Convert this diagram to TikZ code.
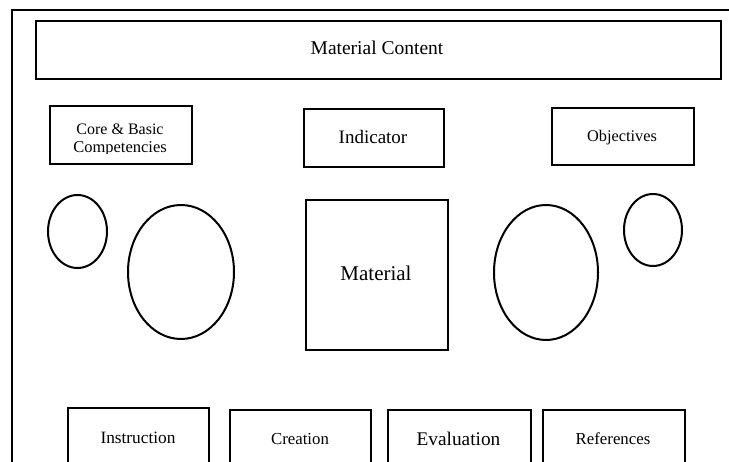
\documentclass[tikz,border=0pt]{standalone}
\usepackage{fontspec}
\setmainfont{Liberation Serif}
\usetikzlibrary{shapes.geometric}
\tikzset{
  boxnode/.style={draw, line width=2.2pt, rectangle, inner sep=0pt, anchor=north west},
  ovalnode/.style={draw, line width=2pt, ellipse, inner sep=0pt},
  txt/.style={inner sep=0pt, anchor=center}
}
\begin{document}
\begin{tikzpicture}[x=1pt,y=-1pt]
\useasboundingbox (0,0) rectangle (729,462);
\clip (0,0) rectangle (729,462);
\fill[white] (0,0) rectangle (729,462);
% frame
\coordinate (ftr) at (735,10);
\coordinate (ftl) at (12,10);
\coordinate (fbl) at (12,470);
\draw[line width=2.2pt] (ftr) -- (ftl) -- (fbl);
% top box
\node[boxnode, minimum width=685pt, minimum height=58pt] (content) at (35,20) {};
\node[txt, font=\fontsize{19.5}{22}\selectfont] (contentT) at (377,48) {Material Content};
% second row
\node[boxnode, minimum width=142pt, minimum height=58pt] (core) at (49,105) {};
\begin{scope}
\clip (49,105) rectangle (191,154);
\node[txt, font=\fontsize{16}{19}\selectfont, anchor=base] (coreT1) at (120,134.5) {Core \& Basic};
\node[txt, font=\fontsize{16.5}{19}\selectfont, anchor=base] (coreT2) at (120,153) {Competencies};
\end{scope}
\node[boxnode, minimum width=140pt, minimum height=58pt] (ind) at (303,108) {};
\node[txt, font=\fontsize{19}{22}\selectfont] (indT) at (373,137) {Indicator};
\node[boxnode, minimum width=142pt, minimum height=57pt] (obj) at (551,107) {};
\node[txt, font=\fontsize{16.3}{19}\selectfont, anchor=base] (objT) at (622,142) {Objectives};
% middle row
\node[ovalnode, minimum width=59pt, minimum height=73pt] (e1) at (77.5,231.5) {};
\node[ovalnode, minimum width=106pt, minimum height=134pt] (e2) at (181,272) {};
\node[boxnode, minimum width=142pt, minimum height=150pt] (mat) at (305,199) {};
\node[txt, font=\fontsize{21}{24}\selectfont] (matT) at (376,273) {Material};
\node[ovalnode, minimum width=104pt, minimum height=135pt] (e3) at (546,272.5) {};
\node[ovalnode, minimum width=58pt, minimum height=72pt] (e4) at (653,230) {};
% bottom row
\node[boxnode, minimum width=141pt, minimum height=70pt] (ins) at (67,407) {};
\node[txt, font=\fontsize{17.3}{20}\selectfont] (insT) at (138,438) {Instruction};
\node[boxnode, minimum width=141pt, minimum height=70pt] (cre) at (229,409) {};
\node[txt, font=\fontsize{16.8}{20}\selectfont] (creT) at (300,439) {Creation};
\node[boxnode, minimum width=143pt, minimum height=70pt] (eva) at (387,409) {};
\node[txt, font=\fontsize{19.3}{22}\selectfont] (evaT) at (458.5,439) {Evaluation};
\node[boxnode, minimum width=142pt, minimum height=70pt] (ref) at (542,409) {};
\node[txt, font=\fontsize{16.8}{20}\selectfont] (refT) at (613,439) {References};
\end{tikzpicture}
\end{document}
